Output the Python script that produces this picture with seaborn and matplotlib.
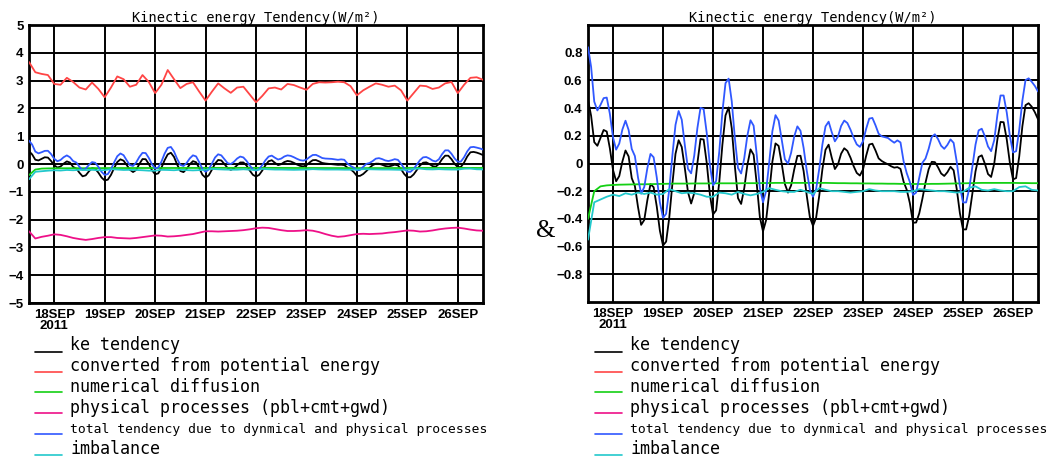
import numpy as np
import pandas as pd
import matplotlib
matplotlib.use("Agg")
import matplotlib.pyplot as plt
from matplotlib.lines import Line2D
import seaborn as sns

# ---------------- data ----------------
start_day = 17.5            # 17 SEP 12Z
step_fine = 1.5 / 24        # 1.5-hourly readings (ke tendency, total tendency)
step_coarse = 3.0 / 24      # 3-hourly readings (other series)

ke_tendency = [0.46, 0.344, 0.154, 0.128, 0.185, 0.242, 0.231, 0.109, -0.046, -0.128,
               -0.091, 0.014, 0.094, 0.051, -0.106, -0.162, -0.314, -0.443, -0.408, -0.264,
               -0.149, -0.171, -0.31, -0.485, -0.592, -0.564, -0.392, -0.148, 0.07, 0.168,
               0.119, -0.036, -0.207, -0.289, -0.214, 0.001, 0.177, 0.173, 0.003, -0.223,
               -0.368, -0.338, -0.135, 0.134, 0.347, 0.405, 0.254, -0.021, -0.25, -0.292,
               -0.179, -0.01, 0.102, 0.063, -0.148, -0.388, -0.49, -0.409, -0.208, 0.013,
               0.145, 0.127, -0.002, -0.148, -0.21, -0.158, -0.042, 0.055, 0.056, -0.055,
               -0.232, -0.388, -0.45, -0.391, -0.232, -0.043, 0.099, 0.136, 0.042, -0.04,
               -0.006, 0.071, 0.11, 0.091, 0.042, -0.019, -0.068, -0.087, -0.043, 0.055,
               0.137, 0.143, 0.094, 0.037, 0.018, 0.005, -0.006, -0.02, -0.03, -0.026,
               -0.039, -0.132, -0.19, -0.287, -0.428, -0.426, -0.36, -0.255, -0.138, -0.042,
               0.012, 0.01, -0.027, -0.072, -0.09, -0.063, -0.024, -0.049, -0.185, -0.358,
               -0.476, -0.476, -0.376, -0.218, -0.057, 0.047, 0.059, -0.001, -0.076, -0.097,
               0.0, 0.173, 0.30, 0.298, 0.174, 0.004, -0.115, -0.105, 0.052, 0.269,
               0.421, 0.435, 0.41, 0.37, 0.32]

total_tendency = [0.84, 0.697, 0.447, 0.383, 0.423, 0.472, 0.476, 0.358, 0.189, 0.10,
                  0.144, 0.245, 0.309, 0.242, 0.105, 0.054, -0.101, -0.218, -0.17, -0.033,
                  0.069, 0.045, -0.10, -0.281, -0.392, -0.363, -0.189, 0.058, 0.279, 0.379,
                  0.316, 0.13, -0.039, -0.071, 0.057, 0.255, 0.402, 0.393, 0.219, -0.011,
                  -0.158, -0.125, 0.084, 0.371, 0.58, 0.613, 0.449, 0.181, -0.033, -0.072,
                  0.038, 0.202, 0.312, 0.273, 0.062, -0.178, -0.28, -0.198, 0.011, 0.233,
                  0.349, 0.31, 0.169, 0.031, -0.001, 0.078, 0.196, 0.268, 0.236, 0.112,
                  -0.051, -0.189, -0.24, -0.185, -0.038, 0.136, 0.268, 0.302, 0.226, 0.16,
                  0.195, 0.271, 0.31, 0.292, 0.244, 0.186, 0.138, 0.12, 0.16, 0.25,
                  0.324, 0.329, 0.276, 0.215, 0.196, 0.19, 0.184, 0.166, 0.15, 0.167,
                  0.152, 0.015, -0.07, -0.134, -0.227, -0.21, -0.103, 0.005, 0.036, 0.105,
                  0.192, 0.211, 0.177, 0.128, 0.106, 0.134, 0.174, 0.149, 0.012, -0.163,
                  -0.281, -0.281, -0.181, -0.025, 0.136, 0.239, 0.251, 0.197, 0.123, 0.089,
                  0.169, 0.35, 0.491, 0.491, 0.368, 0.199, 0.08, 0.089, 0.243, 0.454,
                  0.602, 0.615, 0.59, 0.56, 0.52]

converted_pe = [3.67, 3.30, 3.24, 3.20, 2.88, 2.85, 3.10, 2.95, 2.75, 2.68,
                2.93, 2.70, 2.40, 2.75, 3.15, 3.05, 2.78, 2.85, 3.20, 2.95,
                2.55, 2.85, 3.38, 3.05, 2.73, 2.88, 2.94, 2.60, 2.28, 2.60,
                2.90, 2.72, 2.56, 2.75, 2.78, 2.50, 2.22, 2.45, 2.72, 2.75,
                2.68, 2.88, 2.84, 2.75, 2.67, 2.88, 2.94, 2.93, 2.94, 2.96,
                2.94, 2.80, 2.47, 2.65, 2.78, 2.90, 2.85, 2.78, 2.82, 2.65,
                2.28, 2.55, 2.82, 2.80, 2.70, 2.75, 2.90, 2.95, 2.55, 2.85,
                3.10, 3.12, 3.03]

numerical_diffusion = [-0.40, -0.20, -0.165, -0.158, -0.155, -0.153, -0.152, -0.151, -0.150, -0.150,
                       -0.149, -0.148, -0.147, -0.146, -0.145, -0.145, -0.145, -0.144, -0.144, -0.144,
                       -0.143, -0.143, -0.143, -0.143, -0.143, -0.142, -0.142, -0.142, -0.141, -0.141,
                       -0.140, -0.140, -0.140, -0.140, -0.140, -0.140, -0.140, -0.140, -0.140, -0.141,
                       -0.142, -0.142, -0.143, -0.143, -0.144, -0.144, -0.145, -0.145, -0.146, -0.146,
                       -0.147, -0.147, -0.148, -0.148, -0.148, -0.147, -0.147, -0.146, -0.145, -0.144,
                       -0.143, -0.142, -0.141, -0.140, -0.140, -0.140, -0.140, -0.140, -0.140, -0.141,
                       -0.141, -0.142, -0.142]

physical_processes = [-2.42, -2.68, -2.62, -2.58, -2.53, -2.55, -2.60, -2.66, -2.70, -2.73,
                      -2.70, -2.66, -2.63, -2.63, -2.66, -2.67, -2.68, -2.66, -2.63, -2.60,
                      -2.57, -2.58, -2.61, -2.60, -2.58, -2.55, -2.52, -2.47, -2.42, -2.42,
                      -2.43, -2.42, -2.41, -2.40, -2.38, -2.35, -2.31, -2.29, -2.30, -2.34,
                      -2.38, -2.41, -2.41, -2.40, -2.38, -2.40, -2.45, -2.52, -2.58, -2.62,
                      -2.60, -2.56, -2.52, -2.51, -2.52, -2.51, -2.50, -2.47, -2.45, -2.42,
                      -2.39, -2.40, -2.43, -2.42, -2.39, -2.35, -2.32, -2.30, -2.29, -2.32,
                      -2.36, -2.39, -2.40]

imbalance = [-0.55, -0.28, -0.26, -0.24, -0.225, -0.235, -0.215, -0.225, -0.21, -0.22,
             -0.21, -0.225, -0.22, -0.185, -0.20, -0.215, -0.21, -0.215, -0.225, -0.24,
             -0.24, -0.21, -0.215, -0.225, -0.205, -0.22, -0.23, -0.22, -0.205, -0.178,
             -0.19, -0.20, -0.205, -0.205, -0.19, -0.205, -0.22, -0.178, -0.19, -0.20,
             -0.20, -0.205, -0.21, -0.205, -0.20, -0.185, -0.195, -0.20, -0.20, -0.20,
             -0.205, -0.205, -0.20, -0.185, -0.19, -0.195, -0.20, -0.20, -0.205, -0.21,
             -0.205, -0.175, -0.165, -0.19, -0.195, -0.185, -0.195, -0.20, -0.20, -0.17,
             -0.165, -0.19, -0.195]

series_names = ["ke tendency",
                "converted from potential energy",
                "numerical diffusion",
                "physical processes (pbl+cmt+gwd)",
                "total tendency due to dynmical and physical processes",
                "imbalance"]
series_values = [ke_tendency, converted_pe, numerical_diffusion,
                 physical_processes, total_tendency, imbalance]
series_steps = [step_fine, step_coarse, step_coarse, step_coarse, step_fine, step_coarse]
series_colors = ["#000000", "#ff4545", "#14d014", "#ee1088", "#3058ff", "#22c8cc"]

x_tick_days = [18, 19, 20, 21, 22, 23, 24, 25, 26]
x_tick_labels = ["18SEP\n2011", "19SEP", "20SEP", "21SEP", "22SEP",
                 "23SEP", "24SEP", "25SEP", "26SEP"]
left_yticks = [-5, -4, -3, -2, -1, 0, 1, 2, 3, 4, 5]
right_yticks = [-0.8, -0.6, -0.4, -0.2, 0, 0.2, 0.4, 0.6, 0.8]
right_ytick_labels = ["\u22120.8", "\u22120.6", "\u22120.4", "\u22120.2", "0",
                      "0.2", "0.4", "0.6", "0.8"]
title_text = "Kinectic energy Tendency(W/m\u00b2)"

assert len(ke_tendency) == 145 and len(total_tendency) == 145
for v in (converted_pe, numerical_diffusion, physical_processes, imbalance):
    assert len(v) == 73

# ---------------- build table ----------------
frames = []
for name, vals, stp in zip(series_names, series_values, series_steps):
    d = start_day + stp * np.arange(len(vals))
    frames.append(pd.DataFrame({"day": d, "value": vals, "series": name}))
df = pd.concat(frames, ignore_index=True)
palette = dict(zip(series_names, series_colors))

# ---------------- figure ----------------
sns.set_style("white")
plt.rcParams['font.family'] = ['DejaVu Sans']
for k in ("text.color", "axes.labelcolor", "xtick.color", "ytick.color"):
    plt.rcParams[k] = "black"

W, H = 1057, 473
fig = plt.figure(figsize=(W / 100, H / 100), dpi=100)


def rect(x0, y0, x1, y1):
    return [x0 / W, 1 - y1 / H, (x1 - x0) / W, (y1 - y0) / H]


axL = fig.add_axes(rect(29, 25, 483, 303))
axR = fig.add_axes(rect(588, 25, 1038, 302))

tick_font = dict(family=['Liberation Sans Narrow', 'Liberation Sans', 'DejaVu Sans'],
                 weight='bold', size=9.5)
mono = ['DejaVu Sans Mono', 'DejaVu Sans']

for ax in (axL, axR):
    sns.lineplot(data=df, x="day", y="value", hue="series", palette=palette,
                 hue_order=series_names, ax=ax, legend=False, lw=1.3,
                 estimator=None, sort=False, zorder=3)
    ax.set_xlim(17.5, 26.5)
    ax.set_xticks(x_tick_days)
    ax.set_xticklabels(x_tick_labels, fontdict=tick_font, linespacing=0.95)
    ax.set_xlabel("")
    ax.set_ylabel("")
    ax.grid(True, color="black", lw=1.4, zorder=1)
    ax.set_axisbelow(True)
    for sp in ax.spines.values():
        sp.set_linewidth(2.0)
        sp.set_color("black")
        sp.set_visible(True)
    ax.tick_params(axis="both", length=0, pad=4)
    ax.set_title(title_text, fontsize=9.8, family=mono, pad=2)

axL.set_ylim(-5, 5)
axL.set_yticks(left_yticks)
axL.set_yticklabels([str(v).replace("-", "\u2212") for v in left_yticks], fontdict=tick_font)

axR.set_ylim(-1, 1)
axR.set_yticks(right_yticks)
axR.set_yticklabels(right_ytick_labels, fontdict=tick_font)

fig.text(546 / W, 1 - 231 / H, "&", family="Liberation Serif", fontsize=18,
         ha="center", va="center")

# ---------------- legends below each panel ----------------
row_text_y = [345, 366, 387, 408, 429, 449]
row_line_y = [352, 372, 392, 413, 434, 455]
for x_line0, x_text in ((35, 70), (595, 630)):
    for i, (name, col) in enumerate(zip(series_names, series_colors)):
        fig.add_artist(Line2D([x_line0 / W, (x_line0 + 27) / W],
                              [1 - row_line_y[i] / H, 1 - row_line_y[i] / H],
                              color=col, lw=1.2, transform=fig.transFigure))
        fs = 9.4 if i == 4 else 12
        fig.text(x_text / W, 1 - row_text_y[i] / H, name, fontsize=fs,
                 family=mono, ha="left", va="center")

fig.savefig("out.png", dpi=100)
